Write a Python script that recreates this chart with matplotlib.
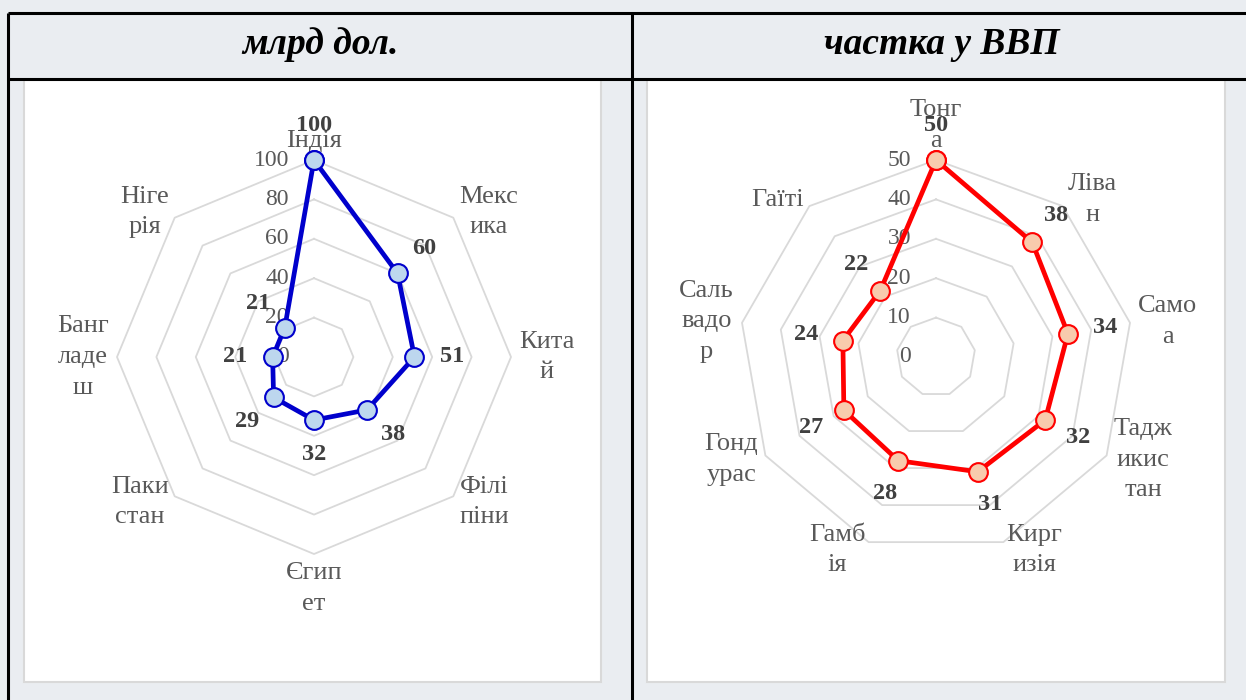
import numpy as np
import matplotlib.pyplot as plt
from matplotlib.patches import Rectangle

plt.rcParams['font.family'] = ['Liberation Serif', 'DejaVu Serif']

# дані
left_title = 'млрд дол.'
left_labels = ['Індія', 'Мекс\nика', 'Кита\nй', 'Філі\nпіни', 'Єгип\nет',
               'Паки\nстан', 'Банг\nладе\nш', 'Ніге\nрія']
left_values = [100, 60, 51, 38, 32, 29, 21, 21]
left_ticks = [0, 20, 40, 60, 80, 100]

right_title = 'частка у ВВП'
right_labels = ['Тонг\nа', 'Ліва\nн', 'Само\nа', 'Тадж\nикис\nтан', 'Кирг\nизія',
                'Гамб\nія', 'Гонд\nурас', 'Саль\nвадо\nр', 'Гаїті']
right_values = [50, 38, 34, 32, 31, 28, 27, 24, 22]
right_ticks = [0, 10, 20, 30, 40, 50]

W, H = 1246, 700
fig = plt.figure(figsize=(W / 100, H / 100), dpi=100, facecolor='#eaedf1')

# таблиця і рамки діаграм
bg = fig.add_axes([0, 0, 1, 1])
bg.set_xlim(0, W)
bg.set_ylim(H, 0)
bg.axis('off')
bg.add_patch(Rectangle((24, 80), 577, 602, facecolor='white', edgecolor='#d9d9d9', lw=1.5))
bg.add_patch(Rectangle((647, 80), 578, 602, facecolor='white', edgecolor='#d9d9d9', lw=1.5))
bg.hlines([13, 79], 8, W, color='black', lw=2.2)
bg.vlines([8, 632], 13, H, color='black', lw=2.2)
bg.text(320, 44, left_title, fontsize=27, fontweight='bold', style='italic',
        ha='center', va='center')
bg.text(942, 44, right_title, fontsize=27, fontweight='bold', style='italic',
        ha='center', va='center')


def radar(cx, cy, labels, values, ticks, line_c, fill_c):
    R = 197
    ax = fig.add_axes([(cx - R) / W, (H - cy - R) / H, 2 * R / W, 2 * R / H],
                      projection='polar')
    ax.set_theta_zero_location('N')
    ax.set_theta_direction(-1)
    ax.set_ylim(0, ticks[-1])
    ax.patch.set_alpha(0)
    ax.grid(False)
    ax.set_xticks([])
    ax.set_yticks([])
    ax.spines['polar'].set_visible(False)

    n = len(values)
    th = np.arange(n) * 2 * np.pi / n
    thc = np.append(th, th[0])

    for t in ticks[1:]:
        ax.plot(thc, [t] * (n + 1), color='#d9d9d9', lw=1.3, zorder=1, clip_on=False)
    for t in ticks:
        ax.annotate(str(t), (0, t), xytext=(-18, 0), textcoords='offset points',
                    ha='right', va='center', fontsize=17, color='#595959', zorder=2)

    ax.plot(thc, list(values) + [values[0]], color=line_c, lw=3.4, marker='o', ms=13.5,
            mfc=fill_c, mec=line_c, mew=1.5, zorder=3, clip_on=False)

    for a, v in zip(th, values):
        s, c = np.sin(a), np.cos(a)
        ax.annotate(str(v), (a, v), xytext=(27 * s, 25 * c), textcoords='offset points',
                    ha='center', va='center', fontsize=17.5, fontweight='bold',
                    color='#404040', zorder=4)

    for a, lab in zip(th, labels):
        s, c = np.sin(a), np.cos(a)
        if abs(s) < 0.05:
            ha, va = 'center', ('bottom' if c > 0 else 'top')
        else:
            ha, va = ('left' if s > 0 else 'right'), 'center'
        ax.annotate(lab, (a, ticks[-1]), xytext=(6 * s, 6 * c), textcoords='offset points',
                    ha=ha, va=va, multialignment='center', linespacing=1.5,
                    fontsize=19, color='#595959', zorder=2, annotation_clip=False)


radar(314, 357, left_labels, left_values, left_ticks, '#0000cc', '#bdd7ee')
radar(936, 357, right_labels, right_values, right_ticks, '#ff0000', '#f8cbad')

fig.savefig('out.png', dpi=100, facecolor=fig.get_facecolor())
